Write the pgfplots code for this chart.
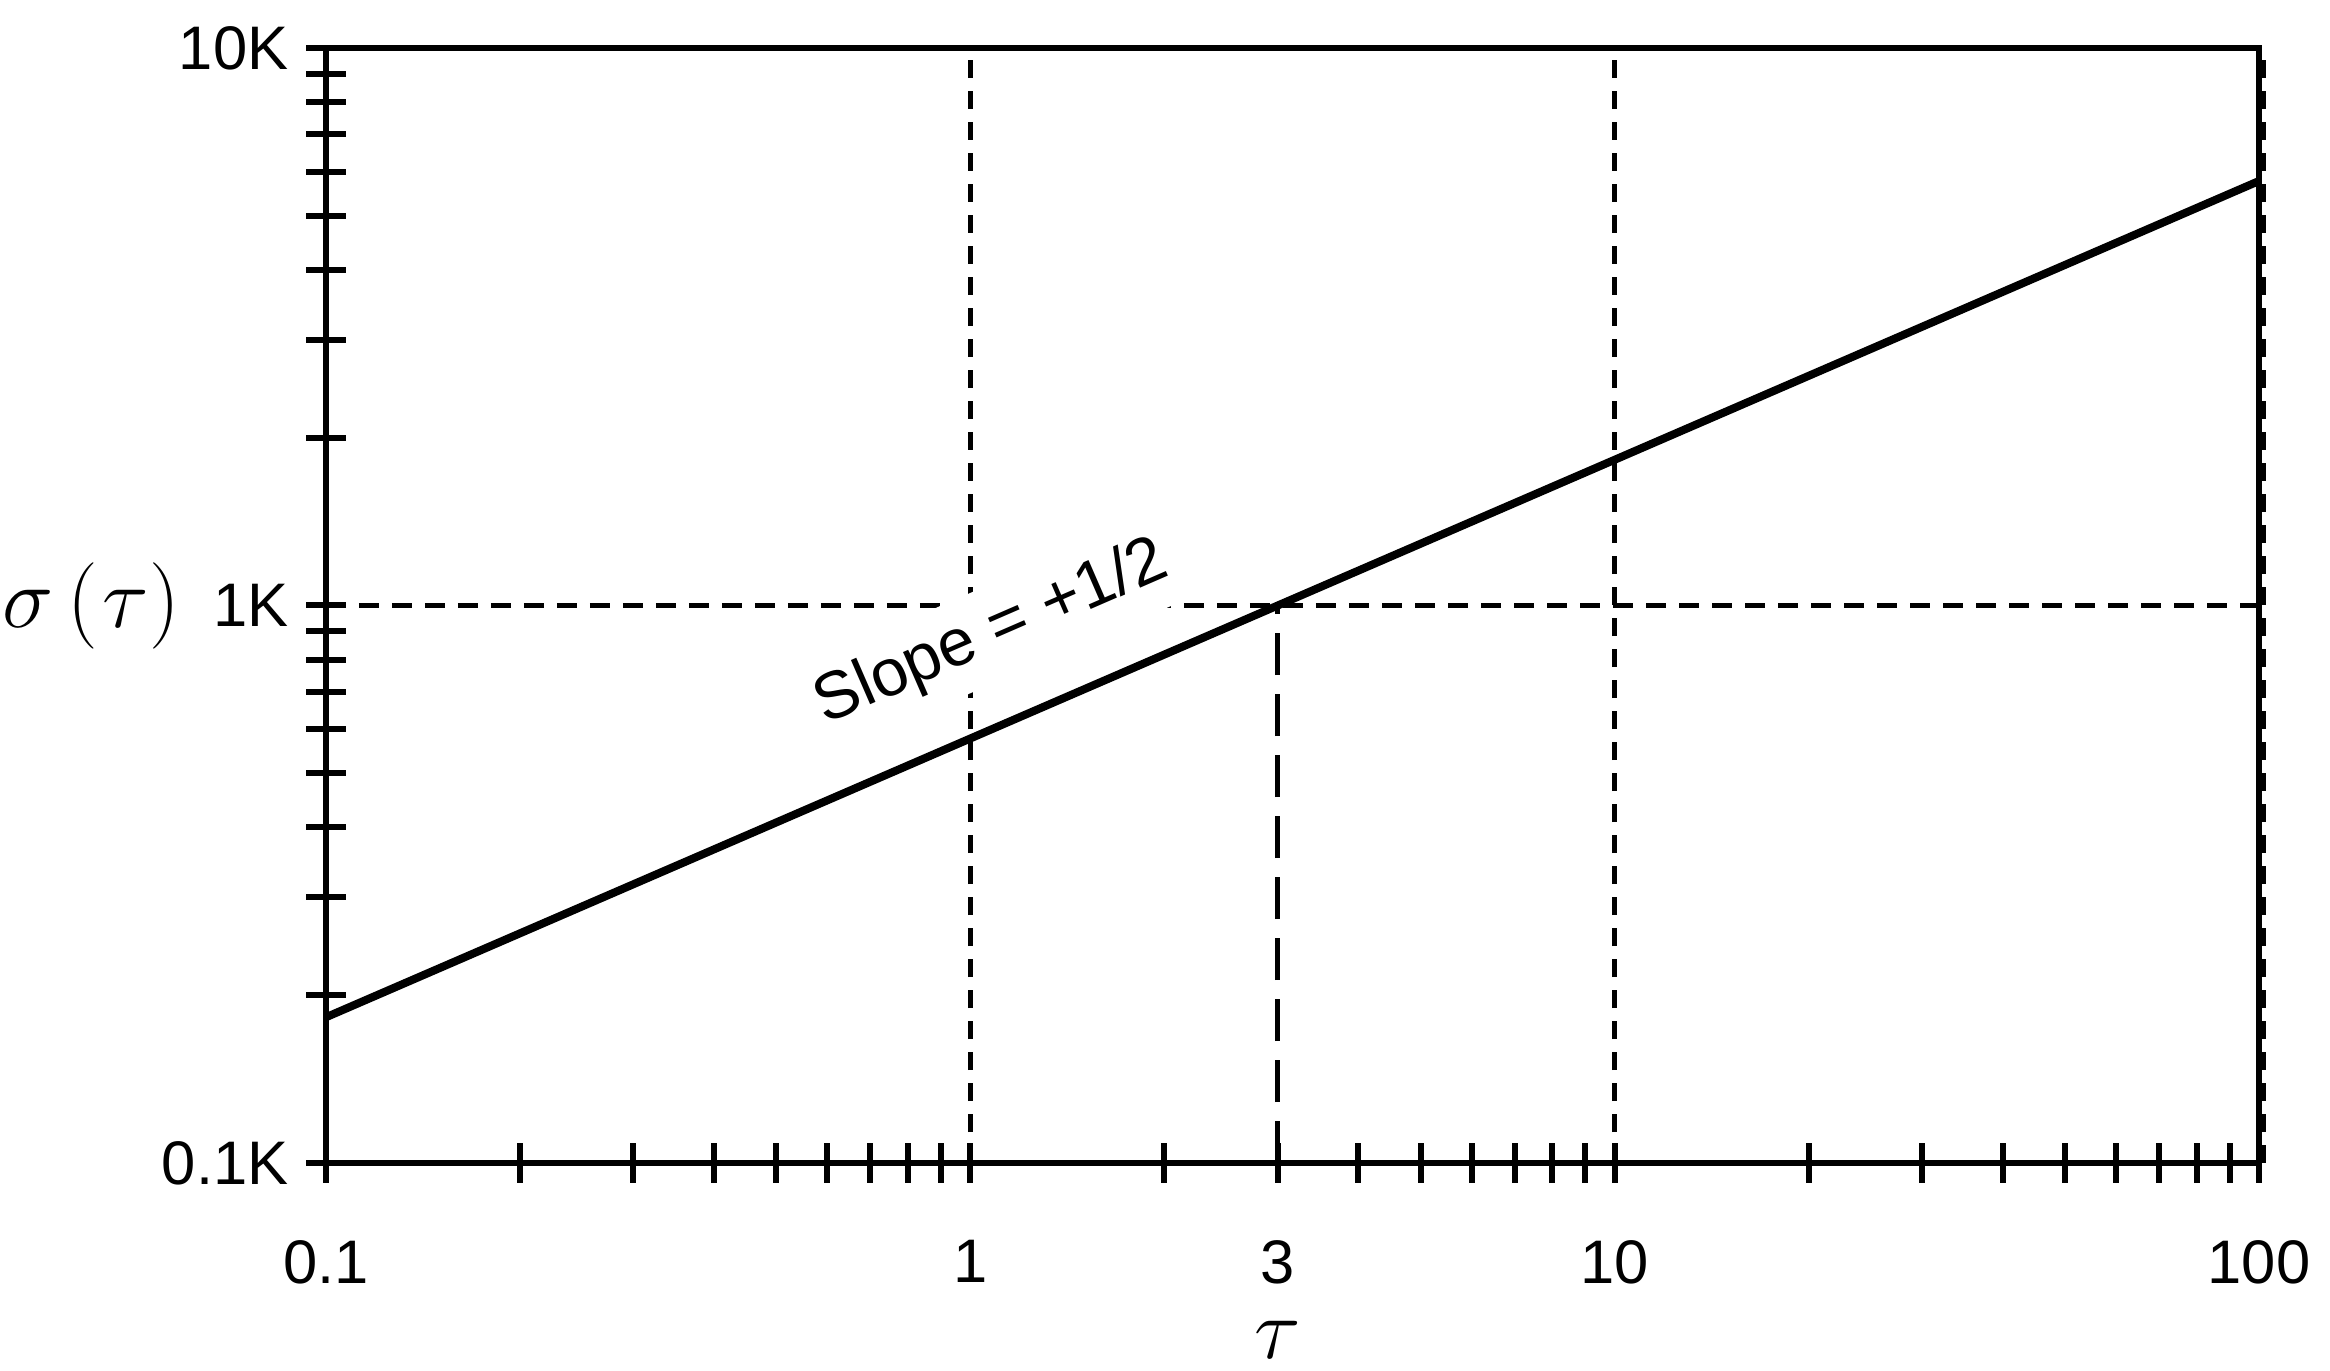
\documentclass[border=0pt]{standalone}
\usepackage{fontspec}
\setmainfont{Liberation Sans}
\usepackage{pgfplots}
\pgfplotsset{compat=1.18}

\begin{document}
\begin{tikzpicture}
\begin{axis}[
  width=386.6pt, height=223pt, scale only axis,
  xmode=log, ymode=log,
  xmin=0.1, xmax=100, ymin=100, ymax=10000,
  xtick={0.1,1,3,10,100}, xticklabels={0.1,1,3,10,100},
  ytick={100,1000,10000}, yticklabels={0.1K,1K,10K},
  minor xtick={0.2,0.3,0.4,0.5,0.6,0.7,0.8,0.9,2,4,5,6,7,8,9,20,30,40,50,60,70,80,90},
  minor ytick={200,300,400,500,600,700,800,900,2000,3000,4000,5000,6000,7000,8000,9000},
  tick pos=left, tick align=center,
  major tick length=8pt, minor tick length=8pt,
  every tick/.append style={black, line width=1.2pt},
  every minor tick/.append style={black, line width=1.2pt},
  axis line style={line width=1.3pt},
  ticklabel style={font=\fontsize{12.3}{14}\selectfont},
  /pgf/number format/assume math mode=true,
  xticklabel style={yshift=-8pt},
  yticklabel style={xshift=0pt},
  xlabel={$\tau$},
  ylabel={$\sigma\mskip3mu\mbox{\fontsize{19}{21}\selectfont$($}\mskip1mu\tau\mbox{\fontsize{19}{21}\selectfont$)$}$},
  every axis x label/.style={at={(axis description cs:0.5,0)}, anchor=north, yshift=-31.5pt, xshift=-3pt, inner sep=0pt, font=\fontsize{16}{18}\selectfont},
  every axis y label/.style={at={(axis description cs:0,0.5)}, anchor=east, xshift=-29pt, inner sep=0pt, font=\fontsize{17}{19}\selectfont},
  clip=false,
]
% reference grid lines
\addplot[black, line width=1.1pt, dash pattern=on 3.6pt off 2.6pt] coordinates {(1,100) (1,10000)};
\addplot[black, line width=1.1pt, dash pattern=on 3.6pt off 2.6pt] coordinates {(10,100) (10,10000)};
\addplot[black, line width=1.1pt, dash pattern=on 3.6pt off 2.6pt, xshift=0.8pt] coordinates {(100,100) (100,10000)};
\addplot[black, line width=1.1pt, dash pattern=on 4pt off 2.6pt] coordinates {(0.1,1000) (100,1000)};
\addplot[black, line width=1.1pt, dash pattern=on 8.5pt off 3.7pt] coordinates {(3,100) (3,1000)};
\node[fill=white, rotate=23.5, font=\fontsize{13.3}{15}\selectfont, inner sep=3pt] at (axis cs:1.08,890) {Slope = +1/2};
% sigma(tau) line, slope +1/2
\addplot[black, line width=1.6pt] coordinates {(0.1,182.6) (1,577.4) (3,1000) (10,1825.7) (100,5773.5)};
\end{axis}
\path (current axis.south west) ++(-65.2pt,-41.4pt) rectangle ++(466pt,274pt);
\end{tikzpicture}
\end{document}
